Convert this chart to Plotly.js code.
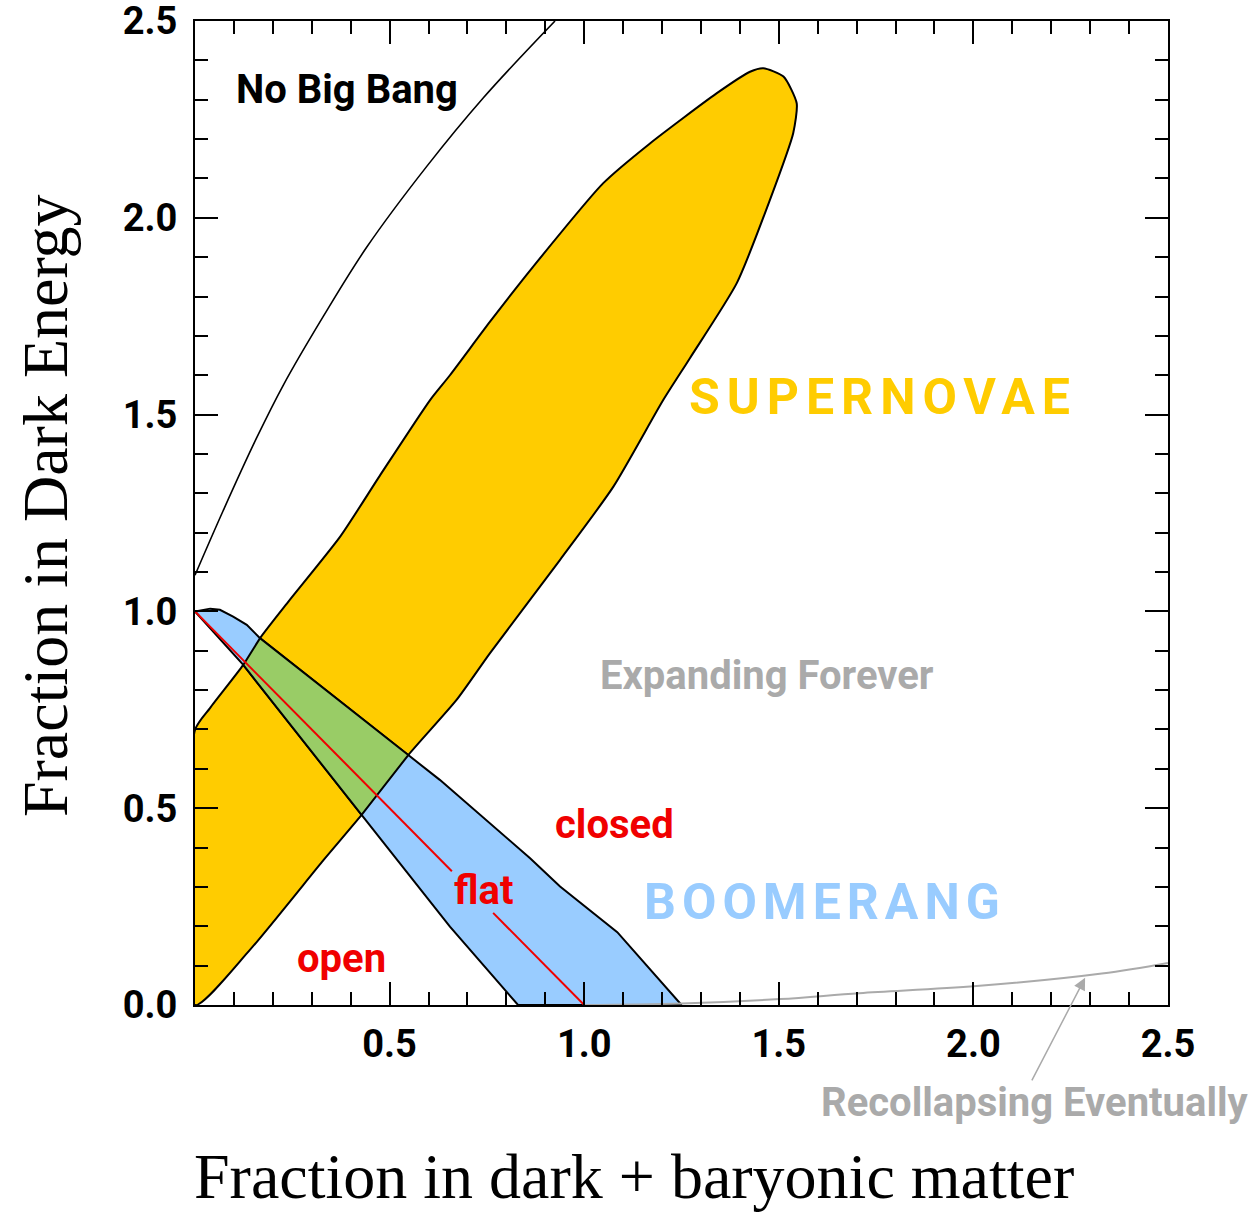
<!DOCTYPE html>
<html>
<head>
<meta charset="utf-8">
<script src="https://cdn.plot.ly/plotly-3.0.1.min.js"></script>
<style>
  html, body { margin: 0; padding: 0; background: #ffffff; }
  #chart { width: 1255px; height: 1212px; }
  g.annotation[data-index="1"] text.annotation-text { letter-spacing: 7px; }
  g.annotation[data-index="6"] text.annotation-text { letter-spacing: 6px; }
</style>
</head>
<body>
<div id="chart"></div>
<script>
// ---- Data ----
// Supernovae confidence region (clipped by the axes)
const snX = [0, 0.141, 0.330, 0.428, 0.548, 0.672, 0.758, 0.938, 1.075, 1.203, 1.272, 1.392, 1.477, 1.537, 1.546, 1.512, 1.460, 1.426, 1.340, 1.169, 1.049, 0.869, 0.758, 0.655, 0.604, 0.475, 0.373, 0.240, 0.167, 0.124, 0.039, 0, 0];
const snY = [0, 0.140, 0.368, 0.483, 0.635, 0.775, 0.894, 1.131, 1.317, 1.537, 1.644, 1.834, 2.045, 2.215, 2.291, 2.359, 2.380, 2.371, 2.316, 2.189, 2.088, 1.876, 1.736, 1.600, 1.537, 1.345, 1.190, 1.025, 0.932, 0.864, 0.755, 0.699, 0];

// BOOMERANG confidence region
const boX = [0, 0.039, 0.064, 0.098, 0.133, 0.167, 0.548, 0.629, 0.861, 0.938, 1.085, 1.250, 0.830, 0.655, 0.428, 0.124, 0];
const boY = [1.0, 1.007, 1.004, 0.987, 0.966, 0.932, 0.635, 0.572, 0.373, 0.301, 0.185, 0.0, 0.0, 0.199, 0.483, 0.864, 1.0];

// Overlap of both regions
const ovX = [0.124, 0.167, 0.548, 0.428, 0.124];
const ovY = [0.864, 0.932, 0.635, 0.483, 0.864];

// "No Big Bang" boundary
const nbbX = [0, 0.072, 0.158, 0.227, 0.330, 0.441, 0.595, 0.741, 0.925];
const nbbY = [1.092, 1.255, 1.440, 1.575, 1.750, 1.925, 2.130, 2.305, 2.500];

// Flat universe line (interrupted by its label)
const flatX = [0, 0.66, null, 0.766, 1.0];
const flatY = [1.0, 0.34, null, 0.234, 0.0];

// Recollapse boundary
const recX = [1.0, 1.25, 1.503, 1.707, 2.008, 2.330, 2.5];
const recY = [0.0, 0.004, 0.015, 0.030, 0.048, 0.080, 0.107];

// Axis ticks
const tickVals = [0, 0.5, 1.0, 1.5, 2.0, 2.5];
const xTickText = ['', '0.5', '1.0', '1.5', '2.0', '2.5'];
const yTickText = ['0.0', '0.5', '1.0', '1.5', '2.0', '2.5'];

// Text labels (data coordinates)
const labels = [
  {text: 'No Big Bang', x: 0.100, y: 2.325, color: '#000000', size: 40},
  {text: 'SUPERNOVAE', x: 1.355, y: 1.545, color: '#FFCC00', size: 50},
  {text: 'Expanding Forever', x: 1.036, y: 0.836, color: '#AAAAAA', size: 40},
  {text: 'closed', x: 0.920, y: 0.458, color: '#F00000', size: 40},
  {text: 'flat', x: 0.660, y: 0.290, color: '#F00000', size: 40},
  {text: 'open', x: 0.257, y: 0.117, color: '#F00000', size: 40},
  {text: 'BOOMERANG', x: 1.218, y: 0.262, color: '#99CCFF', size: 50}
];
// Label below the plot (paper coordinates)
const recLabel = {text: 'Recollapsing Eventually', x: 0.641, y: -0.099, color: '#AAAAAA', size: 40};
const arrowTip = {x: 2.287, y: 0.069};

const xTitle = 'Fraction in dark + baryonic matter';
const yTitle = 'Fraction in Dark Energy';

// ---- Styles ----
const sansBold = "Roboto, 'DejaVu Sans Condensed', sans-serif";
const serif = "'Liberation Serif', 'Times New Roman', serif";

const traces = [
  {x: snX, y: snY, type: 'scatter', mode: 'lines', fill: 'toself', fillcolor: '#FFCC00',
   line: {color: '#000000', width: 2, shape: 'spline', smoothing: 0.6}, hoverinfo: 'skip', name: 'Supernovae'},
  {x: boX, y: boY, type: 'scatter', mode: 'lines', fill: 'toself', fillcolor: '#99CCFF',
   line: {color: '#000000', width: 2}, hoverinfo: 'skip', name: 'Boomerang'},
  {x: ovX, y: ovY, type: 'scatter', mode: 'lines', fill: 'toself', fillcolor: '#99CC66',
   line: {color: '#000000', width: 2}, hoverinfo: 'skip', name: 'Overlap'},
  {x: nbbX, y: nbbY, type: 'scatter', mode: 'lines',
   line: {color: '#000000', width: 1.6, shape: 'spline'}, hoverinfo: 'skip', name: 'No Big Bang'},
  {x: flatX, y: flatY, type: 'scatter', mode: 'lines', connectgaps: false,
   line: {color: '#F00000', width: 2}, hoverinfo: 'skip', name: 'flat'},
  {x: recX, y: recY, type: 'scatter', mode: 'lines',
   line: {color: '#AAAAAA', width: 2, shape: 'spline'}, hoverinfo: 'skip', name: 'Recollapse'}
];

const annotations = labels.map(l => ({
  text: l.text, x: l.x, y: l.y, xref: 'x', yref: 'y',
  xanchor: 'left', yanchor: 'middle', showarrow: false,
  font: {family: sansBold, size: l.size, color: l.color, weight: 'bold'}
}));
annotations.push({
  text: recLabel.text, x: recLabel.x, y: recLabel.y, xref: 'paper', yref: 'paper',
  xanchor: 'left', yanchor: 'middle', showarrow: false,
  font: {family: sansBold, size: recLabel.size, color: recLabel.color, weight: 'bold'}
});
annotations.push({
  text: '', x: arrowTip.x, y: arrowTip.y, xref: 'x', yref: 'y',
  showarrow: true, ax: -54, ay: 104, arrowcolor: '#AAAAAA', arrowwidth: 1.5,
  arrowhead: 2, arrowsize: 1.6, standoff: 0
});
annotations.push({
  text: xTitle, x: 0.4512, y: -0.1740, xref: 'paper', yref: 'paper',
  xanchor: 'center', yanchor: 'middle', showarrow: false,
  font: {family: serif, size: 64, color: '#000000'}
});
annotations.push({
  text: yTitle, x: -0.1542, y: 0.508, xref: 'paper', yref: 'paper',
  xanchor: 'center', yanchor: 'middle', showarrow: false, textangle: -90,
  font: {family: serif, size: 64, color: '#000000'}
});

const axisCommon = {
  range: [0, 2.5], showgrid: false, zeroline: false,
  showline: true, linewidth: 2, linecolor: '#000000', mirror: 'ticks',
  ticks: 'inside', ticklen: 23, tickwidth: 2, tickcolor: '#000000',
  tickvals: tickVals, ticklabeloverflow: 'allow',
  tickfont: {family: sansBold, size: 38, color: '#000000', weight: 'bold'},
  minor: {ticks: 'inside', ticklen: 13, tickwidth: 2, tickcolor: '#000000', dtick: 0.1, tick0: 0, showgrid: false},
  fixedrange: true
};

const layout = {
  width: 1255, height: 1212,
  margin: {l: 195, r: 87, t: 21, b: 207},
  paper_bgcolor: '#ffffff', plot_bgcolor: '#ffffff',
  showlegend: false,
  xaxis: Object.assign({}, axisCommon, {ticktext: xTickText, ticklabelstandoff: 4}),
  yaxis: Object.assign({}, axisCommon, {ticktext: yTickText, ticklabelstandoff: 8}),
  annotations: annotations
};

Plotly.newPlot('chart', traces, layout, {staticPlot: true, displayModeBar: false});
</script>
</body>
</html>
